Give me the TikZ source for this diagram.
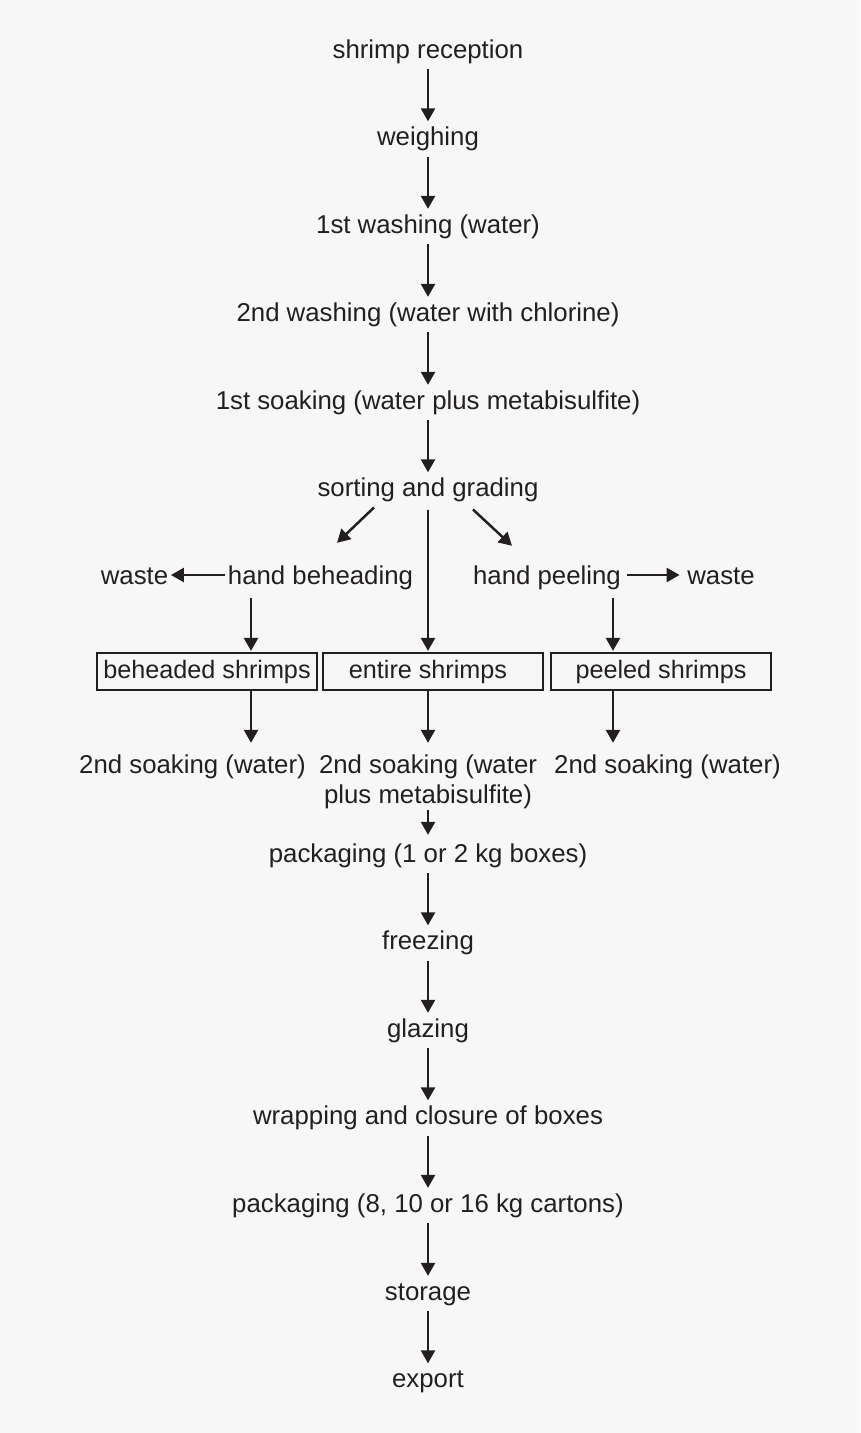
\documentclass[tikz,border=0pt]{standalone}
\usepackage{fontspec}
\setmainfont{Liberation Sans}
\usetikzlibrary{arrows.meta,calc}
\definecolor{ink}{HTML}{231F20}
\definecolor{bg}{HTML}{F7F7F7}
\begin{document}
\begin{tikzpicture}[x=1pt,y=-1pt,
  lbl/.style={anchor=base, inner sep=0pt, text height=18.5pt, text depth=5.5pt,
    font=\fontsize{25.8}{30}\selectfont, text=ink},
  boxed/.style={draw=ink, line width=2.2pt, minimum width=220pt, minimum height=37pt,
    inner sep=0pt, font=\fontsize{25.2}{30}\selectfont, text=ink,
    text height=18.5pt, text depth=5.5pt},
  arr/.style={draw=ink, line width=2.5pt, -{Triangle[length=13pt,width=14pt]}},
  flow/.style={arr, shorten <=5.5pt, shorten >=5.5pt}]
\fill[bg] (0,0) rectangle (860,1433);
\useasboundingbox (0,0) rectangle (860,1433);
% main column
\node[lbl] (rec) at (428,58) {shrimp reception};
\node[lbl] (wei) at (428,145.5) {weighing};
\node[lbl] (wa1) at (428,233) {1st washing (water)};
\node[lbl] (wa2) at (428,321) {2nd washing (water with chlorine)};
\node[lbl] (so1) at (428,409) {1st soaking (water plus metabisulfite)};
\node[lbl] (sor) at (428,496.5) {sorting and grading};
% branches
\node[lbl] (hbh) at (320.5,584) {hand beheading};
\node[lbl] (wl) at (134.5,584) {waste};
\node[lbl] (hpe) at (547,584) {hand peeling};
\node[lbl] (wr) at (721,584) {waste};
\node[boxed] (bbh) at (207,671.5) {beheaded shrimps};
\node[boxed] (ben) at (433,671.5) {entire shrimps\hspace*{10pt}};
\node[boxed] (bpe) at (661,671.5) {peeled shrimps};
\node[lbl] (s2l) at (192.5,773) {2nd soaking (water)};
\node[lbl, text depth=35.5pt] (s2m) at (428,773)
  {\begin{tabular}[t]{@{}c@{}}2nd soaking (water\\plus metabisulfite)\end{tabular}};
\node[lbl] (s2r) at (667.5,773) {2nd soaking (water)};
% lower column
\node[lbl] (pk1) at (428,862) {packaging (1 or 2 kg boxes)};
\node[lbl] (frz) at (428,949.5) {freezing};
\node[lbl] (glz) at (428,1037) {glazing};
\node[lbl] (wrp) at (428,1124.5) {wrapping and closure of boxes};
\node[lbl] (pk2) at (428,1212) {packaging (8, 10 or 16 kg cartons)};
\node[lbl] (sto) at (428,1300) {storage};
\node[lbl] (exp) at (428,1387.5) {export};
% connectors
\draw[flow] (rec.south) -- (wei.north);
\draw[flow] (wei.south) -- (wa1.north);
\draw[flow] (wa1.south) -- (wa2.north);
\draw[flow] (wa2.south) -- (so1.north);
\draw[flow] (so1.south) -- (sor.north);
\draw[arr] ($(sor.base)+(-54,11)$) -- ($(hbh.north)+(16.5,-22.5)$);
\draw[arr] ($(sor.base)+(45,13)$) -- ($(hpe.north)+(-35,-19.5)$);
\draw[arr, shorten <=7.5pt, shorten >=1pt] (sor.south) -- (sor.south |- ben.north);
\draw[arr, shorten <=3pt, shorten >=2.5pt] ([yshift=2.5pt]hbh.west) -- ([yshift=2.5pt]wl.east);
\draw[arr, shorten <=6pt, shorten >=7.5pt] ([yshift=2.5pt]hpe.east) -- ([yshift=2.5pt]wr.west);
\draw[arr] ($(hbh.south)+(-69.5,8.5)$) -- ($(bbh.north)+(44,-1)$);
\draw[arr] ($(hpe.south)+(66,8.5)$) -- ($(bpe.north)+(-48,-1)$);
\draw[arr] ($(bbh.south)+(44,0)$) -- ($(s2l.north)+(58.5,-11.5)$);
\draw[arr] ($(ben.south)+(-5,0)$) -- ($(s2m.north)+(0,-11.5)$);
\draw[arr] ($(bpe.south)+(-48,0)$) -- ($(s2r.north)+(-54.5,-11.5)$);
\draw[arr, shorten <=1.5pt, shorten >=8.5pt] (s2m.south) -- (pk1.north);
\draw[flow] (pk1.south) -- (frz.north);
\draw[flow] (frz.south) -- (glz.north);
\draw[flow] (glz.south) -- (wrp.north);
\draw[flow] (wrp.south) -- (pk2.north);
\draw[flow] (pk2.south) -- (sto.north);
\draw[flow] (sto.south) -- (exp.north);
\end{tikzpicture}
\end{document}
